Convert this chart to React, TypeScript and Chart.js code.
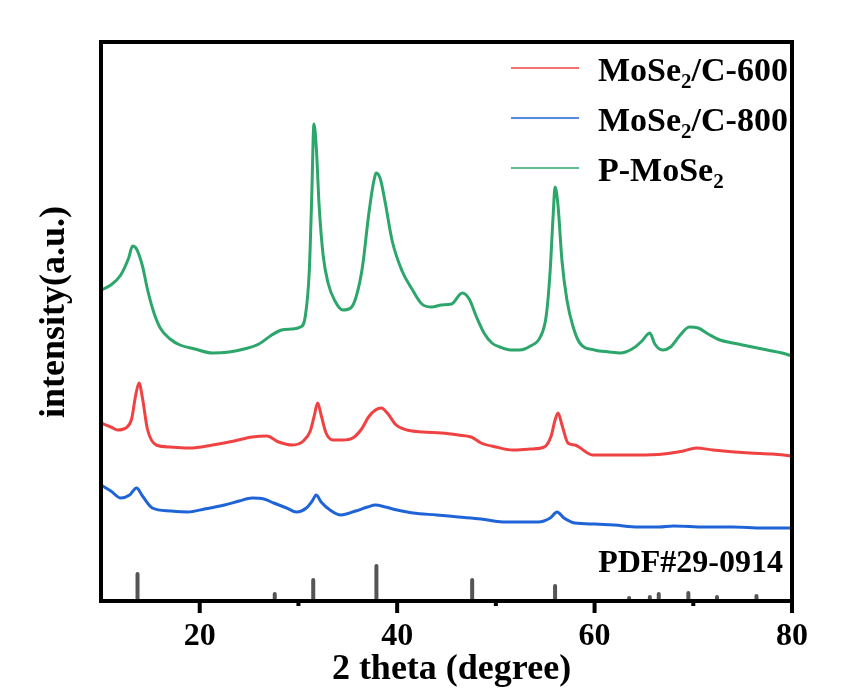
import React, { useEffect, useRef } from 'react';
import { Chart, registerables } from 'chart.js';
Chart.register(...registerables);

const FONT = "'Liberation Serif', 'Times New Roman', serif";

// P-MoSe2 (green)
const pX = [10, 11, 12, 12.8, 13.2, 13.6, 14.2, 14.7, 15.3, 16, 17, 18, 19.5, 21.3, 23, 24.5, 26, 27.3, 28.3, 29.3, 30.2, 30.7, 31.1, 31.35, 31.57, 31.8, 32.1, 32.5, 33, 33.7, 34.5, 35.3, 35.9, 36.5, 37.1, 37.6, 37.9, 38.3, 38.8, 39.5, 40.5, 41.5, 42.5, 43.5, 44.5, 45.5, 46.6, 47.3, 48, 48.8, 49.6, 50.4, 51.5, 52.4, 53.5, 54.5, 55.1, 55.5, 55.8, 56.0, 56.3, 56.7, 57.2, 57.8, 58.5, 60, 61.5, 62.6, 63.8, 64.8, 65.3, 65.6, 66.1, 66.9, 67.7, 68.6, 69.6, 70.5, 71.5, 72.7, 74, 75, 76, 77.5, 79, 80];
const pY = [311, 316, 326, 343, 355, 352, 335, 312, 290, 273, 262, 256, 252, 248, 249, 252, 257, 266, 271, 272, 274, 285, 330, 405, 477, 455, 395, 346, 318, 300, 291, 293, 306, 335, 385, 418, 428, 422, 398, 360, 330, 312, 297, 294, 296, 297, 308, 302, 285, 268, 258, 254, 251, 251, 255, 264, 285, 330, 385, 414, 395, 340, 301, 275, 258, 251, 249, 248, 252, 260, 266, 268, 257, 251, 254, 265, 274, 273, 267, 261, 258, 256, 254, 251, 248, 245];

// MoSe2/C-600 (red)
const rX = [10, 11, 11.7, 12.5, 13.1, 13.5, 13.85, 14.2, 14.7, 15.6, 17, 19, 21.3, 23.5, 25.3, 26.8, 28, 29.4, 30.5, 31.2, 31.6, 31.95, 32.3, 32.8, 33.5, 34.5, 35.5, 36.4, 37.1, 37.8, 38.4, 39, 39.9, 41, 42.6, 44.5, 46.2, 47.5, 48.5, 50, 51.7, 53.5, 54.9, 55.6, 56.0, 56.3, 56.7, 57.3, 58, 59.8, 62, 64.4, 67, 69, 70.3, 72, 75.7, 78, 80];
const rY = [178, 174, 171, 173, 182, 205, 218, 203, 172, 156, 154, 153, 156, 160, 164, 165, 159, 156, 160, 170, 185, 198, 186, 168, 161, 161, 163, 172, 184, 191, 193, 188, 176, 171, 169, 168, 166, 164, 158, 154, 151, 152, 154, 165, 181, 188, 176, 158, 156, 146, 146, 146, 147, 150, 153, 151, 148, 147, 145];

// MoSe2/C-800 (blue)
const bX = [10, 11, 12, 12.9, 13.6, 14.2, 15.2, 17, 18.8, 20.5, 22.5, 24, 25.3, 26.5, 27.5, 28.8, 29.8, 30.8, 31.4, 31.8, 32.3, 33.2, 34.3, 35.8, 37, 37.8, 38.8, 40, 41.6, 44, 46.2, 48.5, 50.7, 52.5, 54.3, 55.5, 56.2, 56.9, 58, 60, 62, 64.4, 66.5, 68, 71.2, 74, 77, 80];
const bY = [116, 110, 103, 106, 113, 105, 93, 90, 89, 92, 96, 100, 103, 102, 98, 93, 89, 93, 100, 106, 99, 91, 86, 90, 94, 96, 94, 91, 88, 86, 84, 82, 79, 79, 79, 83, 89, 83, 78, 77, 76, 74, 74, 75, 74, 74, 73, 73];

// PDF#29-0914 reference sticks
const pdfPos = [13.7, 27.6, 31.5, 37.9, 47.6, 56.0, 63.5, 65.6, 66.5, 69.5, 72.4, 76.4];
const pdfH = [27, 7, 21, 35, 21, 15, 3, 4, 7, 8, 4, 5];

const xMajorTicks = [20, 40, 60, 80];
const xMinorTicks = [30, 50, 70];
const seriesNames = [
  ['MoSe', '2', '/C-600'],
  ['MoSe', '2', '/C-800'],
  ['P-MoSe', '2', ''],
];
const seriesColors = ['rgb(240,66,66)', 'rgb(30,100,215)', 'rgb(44,166,106)'];
const pdfLabel = 'PDF#29-0914';
const xTitle = '2 theta (degree)';
const yTitle = 'intensity(a.u.)';

function toPts(xs: number[], ys: number[]) {
  return xs.map((x, i) => ({ x, y: ys[i] }));
}

const decor = {
  id: 'decor',
  afterDraw(chart: any) {
    const ctx = chart.ctx as CanvasRenderingContext2D;
    const { left, top, right, bottom } = chart.chartArea;
    const xs = chart.scales.x;
    ctx.save();
    ctx.strokeStyle = '#000';
    ctx.fillStyle = '#000';
    ctx.lineWidth = 4;
    ctx.lineCap = 'butt';
    ctx.strokeRect(left, top, right - left, bottom - top);
    // ticks
    ctx.lineWidth = 4;
    xMajorTicks.forEach((v) => {
      const px = xs.getPixelForValue(v);
      ctx.beginPath();
      ctx.moveTo(px, bottom);
      ctx.lineTo(px, bottom + 12);
      ctx.stroke();
    });
    xMinorTicks.forEach((v) => {
      const px = xs.getPixelForValue(v);
      ctx.beginPath();
      ctx.moveTo(px, bottom);
      ctx.lineTo(px, bottom + 5);
      ctx.stroke();
    });
    // tick labels
    ctx.font = `bold 32px ${FONT}`;
    ctx.textAlign = 'center';
    ctx.textBaseline = 'alphabetic';
    xMajorTicks.forEach((v) => {
      ctx.fillText(String(v), xs.getPixelForValue(v), bottom + 44);
    });
    // x title
    ctx.font = `bold 36px ${FONT}`;
    ctx.fillText(xTitle, (left + right) / 2 + 5, bottom + 78);
    // y title
    ctx.save();
    ctx.translate(64, top + 270);
    ctx.rotate(-Math.PI / 2);
    ctx.fillText(yTitle, 0, 0);
    ctx.restore();
    // legend
    seriesNames.forEach((parts, i) => {
      const ly = top + 26 + i * 50;
      ctx.strokeStyle = seriesColors[i];
      ctx.lineWidth = 1.5;
      ctx.beginPath();
      ctx.moveTo(511, ly);
      ctx.lineTo(579, ly);
      ctx.stroke();
      ctx.textAlign = 'left';
      let tx = 598;
      const by = ly + 13;
      ctx.font = `bold 34px ${FONT}`;
      ctx.fillText(parts[0], tx, by);
      tx += ctx.measureText(parts[0]).width;
      ctx.font = `bold 21px ${FONT}`;
      ctx.fillText(parts[1], tx, by + 7);
      tx += ctx.measureText(parts[1]).width;
      ctx.font = `bold 34px ${FONT}`;
      ctx.fillText(parts[2], tx, by);
    });
    // PDF label
    ctx.textAlign = 'right';
    ctx.font = `bold 32px ${FONT}`;
    ctx.fillText(pdfLabel, right - 9, bottom - 29);
    ctx.restore();
  },
};

export default function App() {
  const ref = useRef<HTMLCanvasElement>(null);
  useEffect(() => {
    if (!ref.current) return;
    const sticks: any[] = [];
    pdfPos.forEach((p, i) => {
      sticks.push({ x: p, y: 0 }, { x: p, y: pdfH[i] }, { x: p, y: null });
    });
    const lineDs = (label: string, data: any[], color: string) => ({
      label,
      data,
      borderColor: color,
      backgroundColor: color,
      borderWidth: 3,
      pointRadius: 0,
      cubicInterpolationMode: 'monotone' as const,
      fill: false,
    });
    const chart = new Chart(ref.current, {
      type: 'line',
      data: {
        datasets: [
          lineDs('MoSe2/C-600', toPts(rX, rY), seriesColors[0]),
          lineDs('MoSe2/C-800', toPts(bX, bY), seriesColors[1]),
          lineDs('P-MoSe2', toPts(pX, pY), seriesColors[2]),
          {
            label: pdfLabel,
            data: sticks,
            borderColor: '#555',
            backgroundColor: '#555',
            borderWidth: 4,
            borderCapStyle: 'round',
            pointRadius: 0,
            spanGaps: false,
            tension: 0,
          } as any,
        ],
      },
      options: {
        animation: false,
        responsive: false,
        devicePixelRatio: 1,
        parsing: true,
        layout: { padding: { left: 101, top: 42, right: 53, bottom: 98 } },
        plugins: { legend: { display: false }, tooltip: { enabled: false } },
        scales: {
          x: { type: 'linear', display: false, min: 10, max: 80 },
          y: { type: 'linear', display: false, min: 0, max: 559 },
        },
      },
      plugins: [decor],
    });
    return () => chart.destroy();
  }, []);
  return (
    <div style={{ position: 'fixed', left: 0, top: 0, width: 845, height: 699, background: '#fff' }}>
      <canvas ref={ref} width={845} height={699} style={{ display: 'block' }} />
    </div>
  );
}
